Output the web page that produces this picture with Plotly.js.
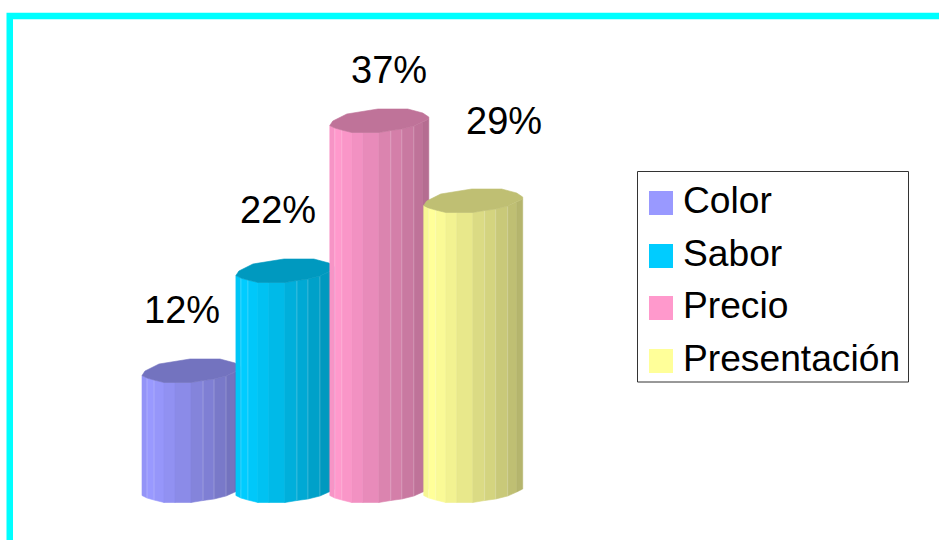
<!DOCTYPE html>
<html>
<head>
<meta charset="utf-8">
<script src="https://cdn.plot.ly/plotly-3.0.1.min.js"></script>
<style>html,body{margin:0;padding:0;background:#fff;overflow:hidden}#chart{width:939px;height:540px}</style>
</head>
<body>
<div id="chart"></div>
<script>
// Survey shares, in percent
const categories = ['Color', 'Sabor', 'Precio', 'Presentación'];
const shares = [12, 22, 37, 29];
const baseColors = [[153, 153, 255], [0, 204, 255], [255, 153, 204], [255, 255, 153]];

// Faceted cylinder outline: edge offsets across the column (0..1), and how far
// the front rim and back rim of the ellipse sit from the centre line (in % units)
const facetEdges = [0, 5, 12, 22, 33, 49, 61, 72, 84, 93, 99].map(d => d / 99);
const frontRim = [0.35, 0.6, 0.8, 1.05, 1.05, 1.05, 0.85, 0.7, 0.4, 0.0, -0.3];
const backEdges = [99, 99, 93, 78, 48, 17, 3, 0].map(d => d / 99);
const backRim = [-0.3, -0.5, -0.9, -1.3, -1.3, -0.8, -0.1, 0.35];
const facetShade = [0.97, 1, 0.98, 0.95, 0.91, 0.86, 0.83, 0.79, 0.75, 0.71];
const highlightEdges = [1, 2, 6, 7, 8];
const capShade = 0.75;

const columnWidth = 99 / 93.9;   // in category units, slightly wider than the spacing

const rgb = (c, k) => `rgb(${c.map(v => Math.round(v * k)).join(',')})`;
const traces = [];
const poly = (x, y, color) => traces.push({
  x, y, type: 'scatter', mode: 'lines', fill: 'toself', fillcolor: color,
  line: {color, width: 0.6}, hoverinfo: 'skip', showlegend: false
});

shares.forEach((v, i) => {
  const left = i - columnWidth / 2;
  const px = f => left + f * columnWidth;
  const c = baseColors[i];
  // side facets
  facetShade.forEach((k, j) => {
    const a = px(facetEdges[j]), b = px(facetEdges[j + 1]);
    poly([a, b, b, a, a],
         [-frontRim[j], -frontRim[j + 1], v - frontRim[j + 1], v - frontRim[j], -frontRim[j]],
         rgb(c, k));
  });
  // pale seams between some facets
  highlightEdges.forEach(j => {
    const a = px(facetEdges[j]);
    traces.push({
      x: [a, a], y: [-frontRim[j], v - frontRim[j]], type: 'scatter', mode: 'lines',
      line: {color: 'rgba(255,255,255,0.22)', width: 1}, hoverinfo: 'skip', showlegend: false
    });
  });
  // top cap
  poly(facetEdges.map(px).concat(backEdges.map(px)),
       frontRim.map(d => v - d).concat(backRim.map(d => v - d)),
       rgb(c, capShade));
});

// Value labels sit around the column tops, nudged in pixels
const labelShiftX = [-10, -7, 10, 31];
const labelShiftY = [62, 62, 52, 81];
const font = 'Liberation Sans, Arial, sans-serif';
const annotations = shares.map((v, i) => ({
  x: i, y: v, xref: 'x', yref: 'y', text: v + '%', showarrow: false,
  xshift: labelShiftX[i], yshift: labelShiftY[i],
  font: {family: font, size: 38, color: '#000'}
}));

// Legend box
const W = 939, H = 540;
const X = p => p / W, Y = p => 1 - p / H;
const shapes = [
  {type: 'rect', xref: 'paper', yref: 'paper', x0: X(9.75), x1: X(980), y0: Y(16), y1: Y(600),
   line: {color: '#00FFFF', width: 6.5}, fillcolor: 'rgba(0,0,0,0)', layer: 'below'},
  {type: 'rect', xref: 'paper', yref: 'paper', x0: X(637.5), x1: X(908.5), y0: Y(171.5), y1: Y(382),
   line: {color: '#333', width: 1}, fillcolor: '#fff'}
];
const legendRows = [203, 256, 308, 361];
categories.forEach((name, i) => {
  const cy = legendRows[i];
  shapes.push({type: 'rect', xref: 'paper', yref: 'paper', x0: X(649), x1: X(673), y0: Y(cy - 12), y1: Y(cy + 12),
    line: {width: 0}, fillcolor: rgb(baseColors[i], 1)});
  annotations.push({
    x: X(681), y: Y(cy - 3), xref: 'paper', yref: 'paper', xanchor: 'left', yanchor: 'middle',
    text: name, showarrow: false, font: {family: font, size: 37.2, color: '#000'}
  });
});

Plotly.newPlot('chart', traces, {
  width: W, height: H,
  margin: {l: 0, r: 0, t: 0, b: 0, pad: 0},
  paper_bgcolor: '#fff', plot_bgcolor: 'rgba(0,0,0,0)',
  showlegend: false,
  xaxis: {visible: false, range: [-191.5 / 93.9, (W - 191.5) / 93.9], fixedrange: true},
  yaxis: {visible: false, range: [-4.8, 49.2], fixedrange: true},
  shapes, annotations
}, {displayModeBar: false, staticPlot: true});
</script>
</body>
</html>
